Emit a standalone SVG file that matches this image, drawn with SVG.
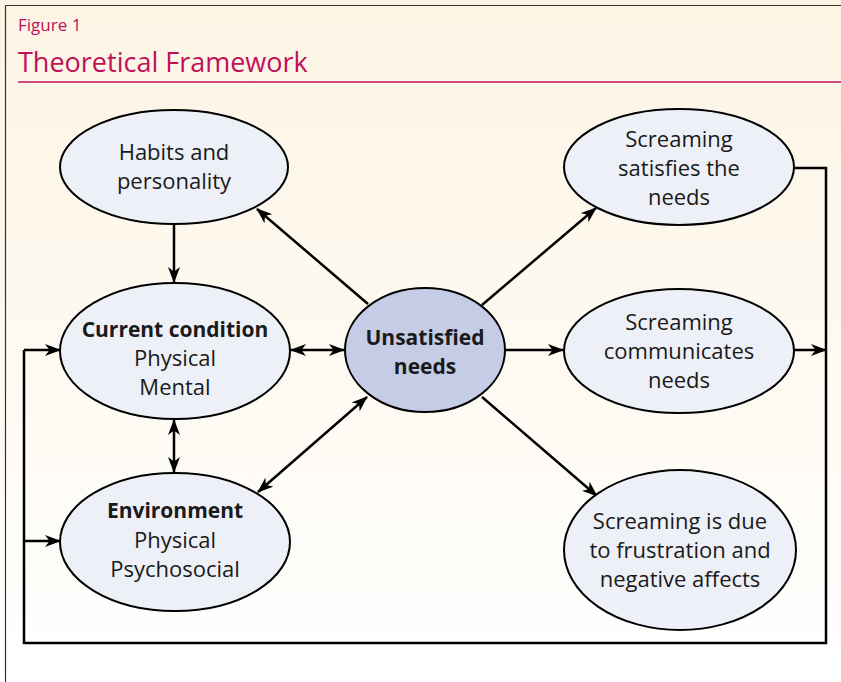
<svg xmlns="http://www.w3.org/2000/svg" width="841" height="682" viewBox="0 0 841 682">
<defs>
<linearGradient id="bg" x1="0" y1="0" x2="0" y2="1">
<stop offset="0" stop-color="#fdf4e4"/>
<stop offset="0.55" stop-color="#fefaf2"/>
<stop offset="1" stop-color="#ffffff"/>
</linearGradient>
<marker id="ah" viewBox="0 0 16 12" refX="15" refY="6" markerWidth="16" markerHeight="12" markerUnits="userSpaceOnUse" orient="auto-start-reverse">
<path d="M0,0 L16,6 L0,12 L4.5,6 z" fill="#000"/>
</marker>
</defs>
<style>
.node{fill:#eef0f7;stroke:#000;stroke-width:2}
.core{fill:#c5cde6;stroke:#000;stroke-width:2}
.t{font-family:"Open Sans","Lato","DejaVu Sans",sans-serif;font-size:22px;fill:#1a1a1a;text-anchor:middle}
.b{font-weight:bold;font-size:21px}
.c{fill:none;stroke:#000;stroke-width:2.5}
.a{marker-end:url(#ah)}
.d{marker-start:url(#ah);marker-end:url(#ah)}
</style>
<rect x="0" y="0" width="841" height="682" fill="url(#bg)"/>
<path d="M5.5,682 V5.5 H841" fill="none" stroke="#333" stroke-width="1.2"/>
<text x="18" y="31" font-family="Open Sans, Lato, sans-serif" font-size="17" fill="#c0105a">Figure 1</text>
<text x="18" y="72" font-family="Open Sans, Lato, sans-serif" font-size="27" fill="#c0105a">Theoretical Framework</text>
<line x1="18" y1="82" x2="841" y2="82" stroke="#c0105a" stroke-width="1.5"/>

<g id="connectors">
<line class="c a" x1="174" y1="225" x2="174" y2="282"/>
<line class="c a" x1="368" y1="304" x2="257" y2="209"/>
<line class="c d" x1="291" y1="350" x2="344" y2="350"/>
<line class="c d" x1="174" y1="420" x2="174" y2="472"/>
<line class="c d" x1="258" y1="492" x2="367" y2="397"/>
<line class="c a" x1="482" y1="305" x2="596" y2="208"/>
<line class="c a" x1="505" y1="350" x2="563" y2="350"/>
<line class="c a" x1="482" y1="397" x2="597" y2="496"/>
<line class="c a" x1="793" y1="350" x2="826" y2="350"/>
<polyline class="c" points="793,168 826,168 826,643 24,643 24,350"/>
<line class="c a" x1="24" y1="350" x2="60" y2="350"/>
<line class="c a" x1="24" y1="541" x2="60" y2="541"/>
</g>

<g id="habits">
<ellipse class="node" cx="174" cy="167" rx="114" ry="57"/>
<text class="t" x="174" y="160">Habits and</text>
<text class="t" x="174" y="189">personality</text>
</g>
<g id="current">
<ellipse class="node" cx="175" cy="351" rx="115" ry="68"/>
<text class="t b" x="175" y="337">Current condition</text>
<text class="t" x="175" y="366">Physical</text>
<text class="t" x="175" y="395">Mental</text>
</g>
<g id="environment">
<ellipse class="node" cx="175" cy="542" rx="115" ry="69"/>
<text class="t b" x="175" y="518">Environment</text>
<text class="t" x="175" y="548">Physical</text>
<text class="t" x="175" y="577">Psychosocial</text>
</g>
<g id="unsatisfied">
<ellipse class="core" cx="425" cy="350" rx="80" ry="62"/>
<text class="t b" x="425" y="345">Unsatisfied</text>
<text class="t b" x="425" y="374">needs</text>
</g>
<g id="satisfies">
<ellipse class="node" cx="679" cy="167" rx="115" ry="58"/>
<text class="t" x="679" y="147">Screaming</text>
<text class="t" x="679" y="176">satisfies the</text>
<text class="t" x="679" y="205">needs</text>
</g>
<g id="communicates">
<ellipse class="node" cx="679" cy="351" rx="115" ry="62"/>
<text class="t" x="679" y="330">Screaming</text>
<text class="t" x="679" y="359">communicates</text>
<text class="t" x="679" y="388">needs</text>
</g>
<g id="due">
<ellipse class="node" cx="680" cy="550" rx="116" ry="80"/>
<text class="t" x="680" y="529">Screaming is due</text>
<text class="t" x="680" y="558">to frustration and</text>
<text class="t" x="680" y="587">negative affects</text>
</g>
</svg>
